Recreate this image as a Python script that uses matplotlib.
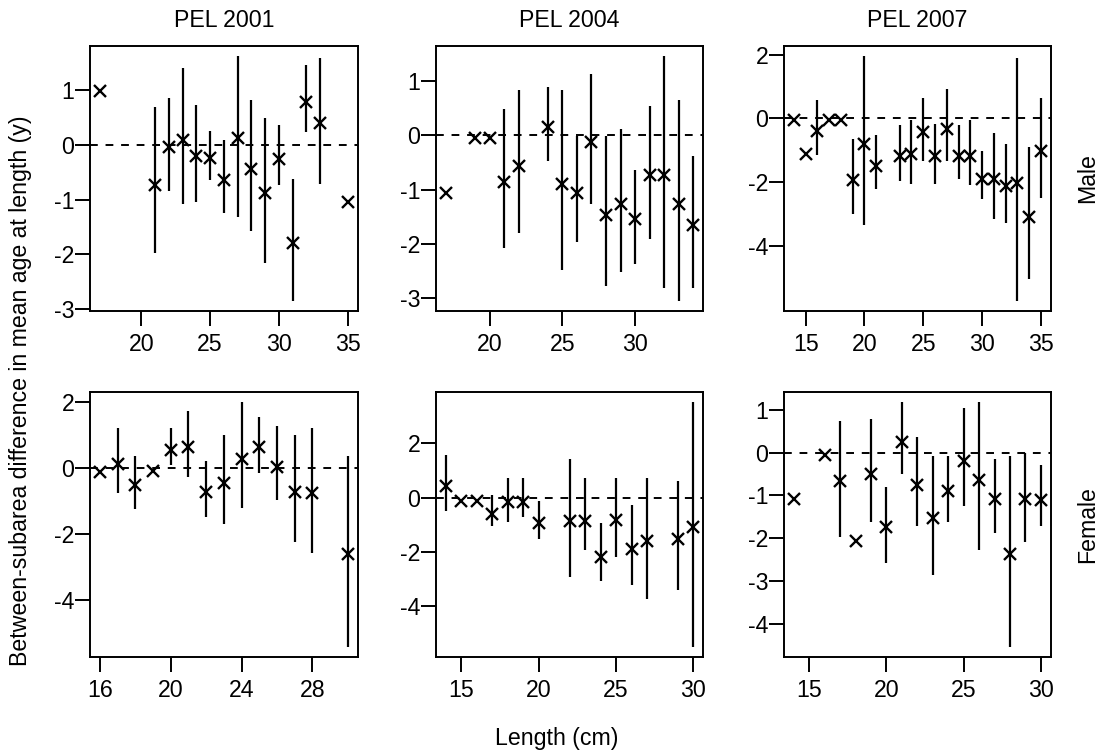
import numpy as np
import matplotlib
matplotlib.use("Agg")
import matplotlib.pyplot as plt

plt.rcParams['font.family'] = ['Liberation Sans', 'DejaVu Sans']
plt.rcParams['font.size'] = 16.7
plt.rcParams['axes.unicode_minus'] = False

nan = np.nan

# Male, PEL 2001
m01_len = [17, 21, 22, 23, 24, 25, 26, 27, 28, 29, 30, 31, 32, 33, 35]
m01_mean = [0.97, -0.73, -0.05, 0.08, -0.21, -0.24, -0.65, 0.12, -0.44, -0.88, -0.26, -1.79, 0.78, 0.39, -1.05]
m01_lo = [nan, -1.98, -0.85, -1.08, -1.05, -0.64, -1.24, -1.31, -1.58, -2.16, -0.74, -2.85, 0.22, -0.72, nan]
m01_hi = [nan, 0.68, 0.85, 1.39, 0.72, 0.25, 0.08, 1.62, 0.81, 0.48, 0.35, -0.63, 1.45, 1.58, nan]

# Male, PEL 2004
m04_len = [17, 19, 20, 21, 22, 24, 25, 26, 27, 28, 29, 30, 31, 32, 33, 34]
m04_mean = [-1.06, -0.06, -0.06, -0.86, -0.57, 0.15, -0.89, -1.06, -0.13, -1.47, -1.27, -1.54, -0.74, -0.74, -1.26, -1.66]
m04_lo = [nan, nan, nan, -2.07, -1.80, -0.48, -2.47, -1.96, -1.26, -2.78, -2.51, -2.37, -1.90, -2.81, -3.05, -2.81]
m04_hi = [nan, nan, nan, 0.48, 0.82, 0.88, 0.82, -0.02, 1.13, -0.02, 0.12, -0.64, 0.54, 1.46, 0.65, -0.39]

# Male, PEL 2007
m07_len = [14, 15, 16, 17, 18, 19, 20, 21, 23, 24, 25, 26, 27, 28, 29, 30, 31, 32, 33, 34, 35]
m07_mean = [-0.06, -1.13, -0.40, -0.06, -0.06, -1.94, -0.81, -1.50, -1.18, -1.13, -0.42, -1.18, -0.32,
            -1.18, -1.18, -1.89, -1.89, -2.12, -2.03, -3.09, -1.04]
m07_lo = [nan, nan, -1.16, nan, nan, -3.02, -3.36, -2.23, -1.97, -2.05, -1.35, -2.05, -1.35,
          -1.91, -2.10, -2.55, -3.15, -3.30, -5.75, -5.05, -2.50]
m07_hi = [nan, nan, 0.59, nan, nan, -0.66, 1.98, -0.51, -0.21, -0.04, 0.65, -0.17, 0.94,
          -0.21, -0.04, -1.03, -0.46, -0.79, 1.90, -0.89, 0.65]

# Female, PEL 2001
f01_len = [16, 17, 18, 19, 20, 21, 22, 23, 24, 25, 26, 27, 28, 30]
f01_mean = [-0.10, 0.12, -0.50, -0.08, 0.57, 0.64, -0.71, -0.43, 0.29, 0.64, 0.04, -0.71, -0.76, -2.59]
f01_lo = [nan, -0.75, -1.24, nan, 0.10, -0.25, -1.47, -1.69, -1.19, -0.13, -0.96, -2.24, -2.57, -5.41]
f01_hi = [nan, 1.21, 0.39, nan, 1.23, 1.73, 0.22, 1.01, 2.01, 1.56, 1.28, 1.01, 1.23, 0.37]

# Female, PEL 2004
f04_len = [14, 15, 16, 17, 18, 19, 20, 22, 23, 24, 25, 26, 27, 29, 30]
f04_mean = [0.43, -0.12, -0.12, -0.61, -0.18, -0.15, -0.94, -0.85, -0.85, -2.17, -0.83, -1.89, -1.59, -1.52, -1.10]
f04_lo = [-0.49, nan, nan, -1.06, -0.91, -0.70, -1.52, -2.93, -1.93, -3.07, -2.17, -3.20, -3.74, -3.39, -5.49]
f04_hi = [1.56, nan, nan, 0.09, 0.73, 0.73, -0.12, 1.43, 0.73, -0.94, 0.73, -0.27, 0.73, 0.61, 3.51]

# Female, PEL 2007
f07_len = [14, 16, 17, 18, 19, 20, 21, 22, 23, 24, 25, 26, 27, 28, 29, 30]
f07_mean = [-1.09, -0.05, -0.67, -2.07, -0.50, -1.73, 0.24, -0.76, -1.52, -0.90, -0.19, -0.63, -1.09, -2.38, -1.09, -1.10]
f07_lo = [nan, nan, -1.97, nan, -1.63, -2.58, -0.50, -1.71, -2.86, -1.63, -1.25, -2.28, -1.89, -4.54, -2.10, -1.72]
f07_hi = [nan, nan, 0.74, nan, 0.78, -0.80, 1.18, 0.36, -0.09, -0.09, 1.04, 1.18, -0.16, -0.09, 0.00, -0.29]

titles = ["PEL 2001", "PEL 2004", "PEL 2007"]
rows = ["Male", "Female"]

xticks = [[20, 25, 30, 35], [20, 25, 30], [15, 20, 25, 30, 35],
          [16, 20, 24, 28], [15, 20, 25, 30], [15, 20, 25, 30]]
yticks = [[-3, -2, -1, 0, 1], [-3, -2, -1, 0, 1], [-4, -2, 0, 2],
          [-4, -2, 0, 2], [-4, -2, 0, 2], [-4, -3, -2, -1, 0, 1]]

panels = [(m01_len, m01_mean, m01_lo, m01_hi),
          (m04_len, m04_mean, m04_lo, m04_hi),
          (m07_len, m07_mean, m07_lo, m07_hi),
          (f01_len, f01_mean, f01_lo, f01_hi),
          (f04_len, f04_mean, f04_lo, f04_hi),
          (f07_len, f07_mean, f07_lo, f07_hi)]

W, H = 1104, 755
fig = plt.figure(figsize=(W / 100, H / 100), dpi=100)

# panel boxes in pixels: left, right / top, bottom
cols_px = [(90, 357.7), (436, 703.3), (784, 1050.7)]
rows_px = [(45.7, 311), (392.3, 656.7)]


def rlim(vals):
    lo, hi = np.nanmin(vals), np.nanmax(vals)
    d = (hi - lo) * 0.04
    return lo - d, hi + d


for i, (xl, mn, lo, hi) in enumerate(panels):
    r, c = divmod(i, 3)
    l, rr = cols_px[c]
    t, b = rows_px[r]
    ax = fig.add_axes([l / W, 1 - b / H, (rr - l) / W, (b - t) / H])
    xl = np.array(xl, float)
    mn = np.array(mn, float)
    lo = np.array(lo, float)
    hi = np.array(hi, float)

    ax.vlines(xl, lo, hi, color='black', lw=1.6)
    ax.plot(xl, mn, linestyle='none', marker='x', color='black', ms=8, mew=1.7)
    ax.axhline(0, color='black', lw=1.4, linestyle=(0, (4, 4)))

    ax.set_xlim(*rlim(xl))
    ax.set_ylim(*rlim(np.concatenate([mn, lo, hi])))
    ax.set_xticks(xticks[i])
    ax.set_yticks(yticks[i])
    ax.tick_params(axis='both', direction='out', length=10.8, width=1.4, color='black')
    ax.tick_params(axis='x', pad=5)
    ax.tick_params(axis='y', pad=0.5)
    for s in ax.spines.values():
        s.set_linewidth(1.4)

    if r == 0:
        fig.text((l + rr) / 2 / W, 1 - 20.5 / H, titles[c], ha='center', va='center')
    if c == 2:
        fig.text(1088 / W, 1 - (t + b) / 2 / H, rows[r], rotation=90, ha='center', va='center')

fig.text(21 / W, 1 - 391 / H, "Between-subarea difference in mean age at length (y)",
         rotation=90, ha='center', va='center')
fig.text(556.5 / W, 1 - 739 / H, "Length (cm)", ha='center', va='center')

fig.savefig("out.png", dpi=100)
